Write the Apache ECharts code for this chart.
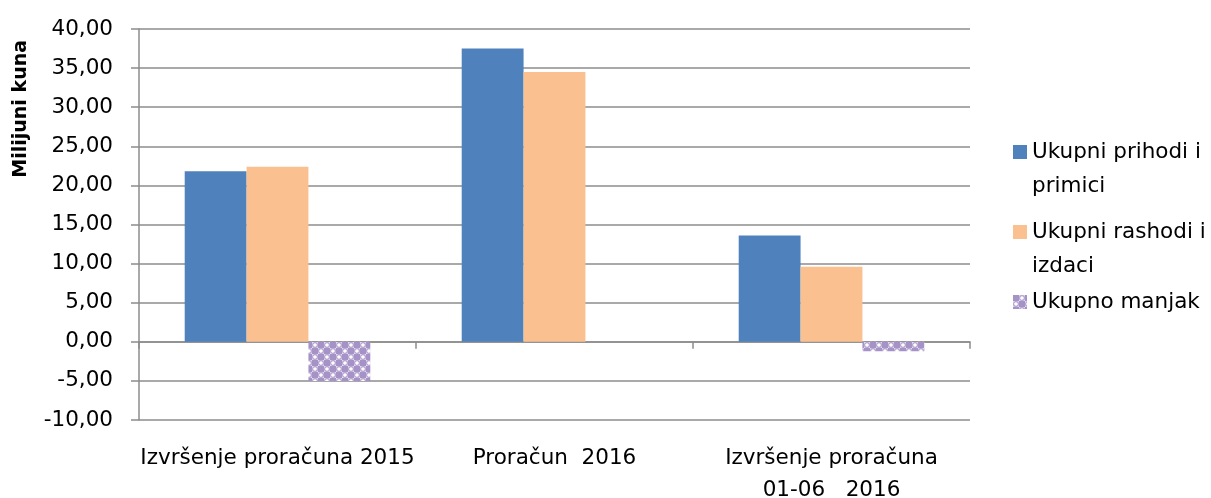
<!DOCTYPE html>
<html>
<head>
<meta charset="utf-8">
<script src="https://cdn.jsdelivr.net/npm/echarts@6/dist/echarts.min.js"></script>
<style>
  html, body { margin: 0; padding: 0; background: #fff; }
  #chart { width: 1211px; height: 498px; }
</style>
</head>
<body>
<div id="chart"></div>
<script>
// chart data
const categories = ['Izvršenje proračuna 2015', 'Proračun  2016', 'Izvršenje proračuna\n01-06   2016'];
const prihodi = [21.8, 37.5, 13.6];
const rashodi = [22.4, 34.5, 9.6];
const manjak = [-5.0, 0, -1.2];
const seriesNames = ['Ukupni prihodi i primici', 'Ukupni rashodi i izdaci', 'Ukupno manjak'];
// leading blank line keeps the swatch level with the first text line
const legendLabels = ['\nUkupni prihodi i\nprimici', '\nUkupni rashodi i\nizdaci', 'Ukupno manjak'];

const font = '"DejaVu Sans", sans-serif';
const gridColor = '#8c8c8c';

// lavender checker pattern used for the deficit bars
function makePattern() {
    let c = document.createElement('canvas');
    c.width = 12;
    c.height = 12;
    let ctx = c.getContext('2d');
    ctx.fillStyle = '#e4dcef';
    ctx.fillRect(0, 0, 12, 12);
    ctx.fillStyle = '#a592c6';
    ctx.fillRect(0, 0, 6, 6);
    ctx.fillRect(6, 6, 6, 6);
    ctx.strokeStyle = '#b3a3d0';
    ctx.lineWidth = 1.2;
    ctx.fillStyle = '#ffffff';
    [[9, 3], [3, 9]].forEach(p => {
        ctx.beginPath();
        ctx.arc(p[0], p[1], 2.4, 0, Math.PI * 2);
        ctx.fill();
        ctx.stroke();
    });
    return c;
}
const pattern = { image: makePattern(), repeat: 'repeat' };

const chart = echarts.init(document.getElementById('chart'), null, { renderer: 'canvas' });

// one legend per item so each can be placed on its own
const lineH = 34;
const legendTops = [101, 181, 285];
const legends = seriesNames.map((name, i) => ({
    orient: 'vertical',
    left: 1013,
    top: legendTops[i],
    padding: 0,
    icon: 'rect',
    itemWidth: 14,
    itemHeight: 14,
    itemGap: 0,
    selectedMode: false,
    data: [name],
    formatter: () => legendLabels[i],
    textStyle: {
        fontFamily: font,
        fontSize: 21.5,
        color: '#000',
        lineHeight: lineH
    }
}));

const option = {
    animation: false,
    legend: legends,
    grid: { left: 139, right: 241, top: 29, bottom: 78, outerBoundsMode: 'none', containLabel: false },
    graphic: [{
        type: 'text',
        left: 12,
        top: 40,
        rotation: Math.PI / 2,
        style: {
            text: 'Milijuni kuna',
            fontFamily: font,
            fontSize: 19,
            fontWeight: 'bold',
            fill: '#000'
        }
    }],
    xAxis: [{
        type: 'category',
        data: categories,
        axisLine: { onZero: true, lineStyle: { color: gridColor, width: 1.5 } },
        axisTick: { show: true, length: 7, lineStyle: { color: gridColor, width: 1.5 } },
        axisLabel: { show: false },
        splitLine: { show: false }
    }, {
        type: 'category',
        data: categories,
        position: 'bottom',
        axisLine: { show: false },
        axisTick: { show: false },
        axisLabel: {
            margin: 22,
            fontFamily: font,
            fontSize: 21.5,
            color: '#000',
            lineHeight: 32,
            interval: 0
        }
    }],
    yAxis: {
        type: 'value',
        min: -10,
        max: 40,
        interval: 5,
        axisLine: { show: true, lineStyle: { color: gridColor, width: 1.5 } },
        axisTick: { show: true, length: 8, lineStyle: { color: gridColor, width: 1.5 } },
        axisLabel: {
            margin: 26,
            fontFamily: font,
            fontSize: 21.5,
            color: '#000',
            formatter: v => v.toFixed(2).replace('.', ',')
        },
        splitLine: { lineStyle: { color: gridColor, width: 1.5 } }
    },
    series: [{
        name: seriesNames[0],
        type: 'bar',
        data: prihodi,
        barGap: '0%',
        barCategoryGap: '33%',
        itemStyle: { color: '#4f81bd' }
    }, {
        name: seriesNames[1],
        type: 'bar',
        data: rashodi,
        itemStyle: { color: '#fac090' }
    }, {
        name: seriesNames[2],
        type: 'bar',
        data: manjak,
        itemStyle: { color: pattern }
    }]
};
chart.setOption(option);
</script>
</body>
</html>
